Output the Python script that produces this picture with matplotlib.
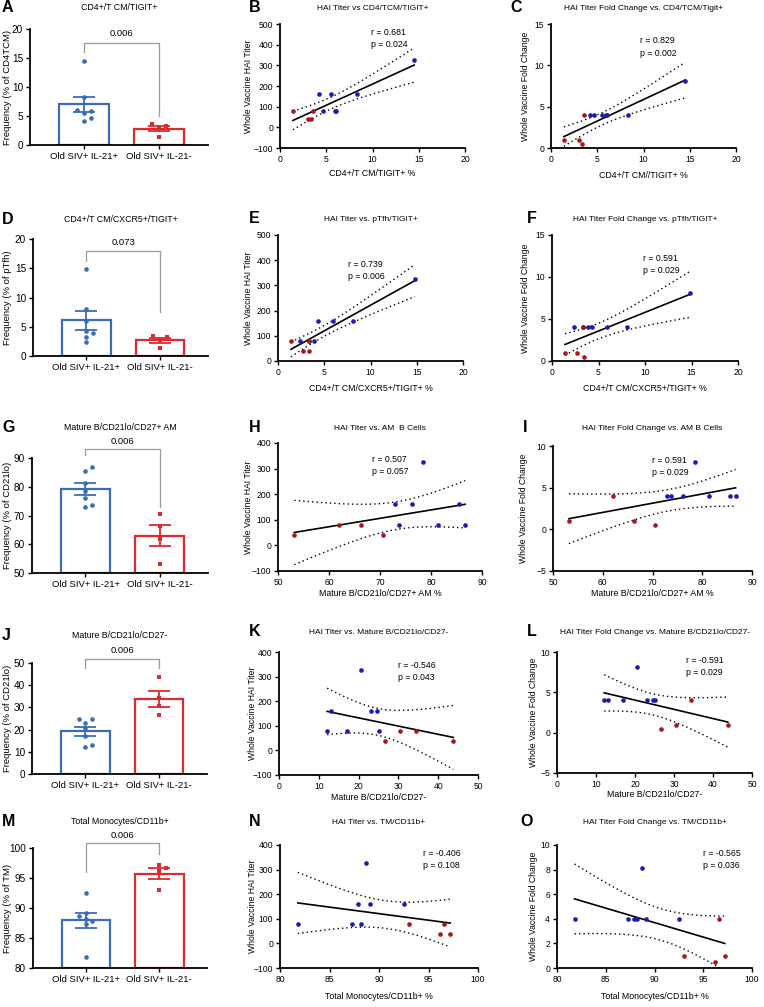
import numpy as np
import matplotlib.pyplot as plt

plt.rcParams['font.family'] = ['Liberation Sans', 'DejaVu Sans']

W, H = 764, 1007
BLUE = "#3b6db5"
RED = "#dd2a2f"
DOT_BLUE = "#1a1cae"
DOT_RED = "#a8161b"
GRAY = "#9a9a9a"
T_CRIT = 2.262  # t(0.975, df = 9), n = 11 animals

GROUPS = ["Old SIV+ IL-21+", "Old SIV+ IL-21-"]

# per-animal outcomes (IL-21+ group, IL-21- group)
hai_pos = [325, 160, 160, 160, 80, 80, 80]
hai_neg = [80, 80, 40, 40]
fold_pos = [8.1, 4, 4, 4, 4, 4, 4]
fold_neg = [1, 4, 1, 0.5]

# per-animal cell frequencies, same animal order as above
tcm_pos = [14.5, 8.3, 4.2, 5.5, 4.6, 5.9, 6.0]
tcm_neg = [1.4, 3.6, 3.0, 3.3]
tfh_pos = [14.8, 8.1, 4.3, 5.9, 2.4, 3.9, 3.3]
tfh_neg = [1.4, 3.3, 2.7, 3.4]
am_pos = [78.5, 73.0, 76.2, 85.5, 73.7, 81.4, 86.7]
am_neg = [66.3, 62.0, 53.2, 70.6]
cd27_pos = [20.5, 13.0, 23.0, 24.7, 12.1, 17.0, 25.0]
cd27_neg = [30.5, 34.3, 43.8, 26.7]
mono_pos = [88.7, 87.9, 89.1, 92.5, 81.8, 87.3, 88.2]
mono_neg = [93.0, 96.6, 97.2, 96.2]

fig = plt.figure(figsize=(W / 100, H / 100), dpi=100)


def add_ax(l, t, r, b):
    return fig.add_axes([l / W, 1 - b / H, (r - l) / W, (b - t) / H])


def ftext(x, y, s, **kw):
    fig.text(x / W, 1 - y / H, s, **kw)


def style(ax, fs):
    for s in ["top", "right"]:
        ax.spines[s].set_visible(False)
    for s in ["left", "bottom"]:
        ax.spines[s].set_linewidth(1.3)
    ax.tick_params(direction="out", length=3, width=1, labelsize=fs, pad=2)


def label_coords(ax, box, ylab_px, xlab_px=None):
    l, t, r, b = box
    ax.yaxis.set_label_coords((ylab_px - l) / (r - l), 0.5)
    if xlab_px is not None:
        ax.xaxis.set_label_coords(0.5, (b - xlab_px) / (b - t))


def swarm(vals, dx, dy):
    offs = np.zeros(len(vals))
    placed = []
    for i in np.argsort(vals):
        for k in [0, 1, -1, 2, -2, 3, -3]:
            o = k * dx
            if all(((o - po) / dx) ** 2 + ((vals[i] - pv) / dy) ** 2 >= 1 for po, pv in placed):
                break
        offs[i] = o
        placed.append((o, vals[i]))
    return offs


def bar_panel(box, letter, title, title_y, pos, neg, ylim, step, ylabel, ptxt, brk):
    ax = add_ax(*box)
    style(ax, 7.2)
    l, t, r, b = box
    dy = (ylim[1] - ylim[0]) * 5 / (b - t)
    for i, (vals, col, mk) in enumerate([(pos, BLUE, "o"), (neg, RED, "s")]):
        v = np.array(vals, dtype=float)
        m = v.mean()
        sem = v.std(ddof=1) / np.sqrt(len(v))
        ax.bar(i, m - ylim[0], bottom=ylim[0], width=0.66, facecolor="white",
               edgecolor=col, linewidth=1.6, zorder=1)
        ax.errorbar(i, m, yerr=sem, color=col, capsize=8, capthick=1.3,
                    elinewidth=1.3, zorder=2)
        ax.scatter(i + swarm(v, 0.09, dy), v, marker=mk, s=11, color=col,
                   zorder=3, clip_on=False, linewidths=0)
    ax.set_xlim(-0.72, 1.65)
    ax.set_ylim(*ylim)
    ax.set_yticks(np.arange(ylim[0], ylim[1] + step / 2, step))
    ax.set_xticks([0, 1])
    ax.set_xticklabels(GROUPS, fontsize=6.8)
    ax.set_ylabel(ylabel, fontsize=6.8)
    label_coords(ax, box, 12)
    y0, yl, yr, yt = brk
    ax.plot([0, 0, 1, 1], [yl, y0, y0, yr], color=GRAY, lw=0.9, clip_on=False)
    ax.text(0.5, yt, ptxt, ha="center", va="center", fontsize=6.8)
    ftext((l + r) / 2, title_y, title, ha="center", va="center", fontsize=6.3)
    ftext(2, title_y, letter, ha="left", va="center", fontsize=11.5, fontweight="bold")
    return ax


def scatter_panel(box, letter, letter_x, title, title_y, xp, xn, yp, yn, xlim, xstep,
                  ylim, ystep, xlabel, ylabel, stats, sxy, ylab_px, xlab_px):
    ax = add_ax(*box)
    style(ax, 6.2)
    l, t, r, b = box
    x = np.r_[xp, xn].astype(float)
    y = np.r_[yp, yn].astype(float)
    n = len(x)
    slope, icpt = np.polyfit(x, y, 1)
    xs = np.linspace(x.min(), x.max(), 100)
    yh = icpt + slope * xs
    resid = y - (icpt + slope * x)
    s = np.sqrt(np.sum(resid ** 2) / (n - 2))
    se = s * np.sqrt(1 / n + (xs - x.mean()) ** 2 / np.sum((x - x.mean()) ** 2))
    ax.plot(xs, yh, color="black", lw=1.2, zorder=2)
    ax.plot(xs, yh + T_CRIT * se, color="black", lw=1, ls=(0, (1, 2.2)), zorder=2)
    ax.plot(xs, yh - T_CRIT * se, color="black", lw=1, ls=(0, (1, 2.2)), zorder=2)
    ax.scatter(xp, yp, s=11, color=DOT_BLUE, zorder=3, linewidths=0)
    ax.scatter(xn, yn, s=11, color=DOT_RED, zorder=3, linewidths=0)
    ax.set_xlim(*xlim)
    ax.set_ylim(*ylim)
    ax.set_xticks(np.arange(xlim[0], xlim[1] + xstep / 2, xstep))
    ax.set_yticks(np.arange(ylim[0], ylim[1] + ystep / 2, ystep))
    ax.set_xlabel(xlabel, fontsize=6.3)
    ax.set_ylabel(ylabel, fontsize=6.2)
    label_coords(ax, box, ylab_px, xlab_px)
    ax.text(sxy[0], sxy[1], stats, transform=ax.transAxes, ha="left", va="top",
            fontsize=6.3, linespacing=1.45)
    ftext((l + r) / 2, title_y, title, ha="center", va="center", fontsize=6.0)
    ftext(letter_x, title_y - 1, letter, ha="left", va="center", fontsize=11.5,
          fontweight="bold")
    return ax


TITER = "Whole Vaccine HAI Titer"
FOLD = "Whole Vaccine Fold Change"

# row 1
bar_panel((30, 29, 208, 145), "A", "CD4+/T CM/TIGIT+", 8, tcm_pos, tcm_neg,
          (0, 20), 5, "Frequency (% of CD4TCM)", "0.006", (17.5, 16.0, 5.0, 19.3))
scatter_panel((280, 24, 465, 148), "B", 249, "HAI Titer vs CD4/TCM/TIGIT+", 8,
              tcm_pos, tcm_neg, hai_pos, hai_neg, (0, 20), 5, (-100, 500), 100,
              "CD4+/T CM/TIGIT+ %", TITER, "r = 0.681\np = 0.024", (0.49, 0.97), 253, 169)
scatter_panel((551, 24, 736, 148), "C", 510, "HAI Titer Fold Change vs. CD4/TCM/Tigit+", 8,
              tcm_pos, tcm_neg, fold_pos, fold_neg, (0, 20), 5, (0, 15), 5,
              "CD4+/T CM//TIGIT+ %", FOLD, "r = 0.829\np = 0.002", (0.48, 0.90), 530, 171)

# row 2
bar_panel((33, 239, 208, 356), "D", "CD4+/T CM/CXCR5+/TIGIT+", 219, tfh_pos, tfh_neg,
          (0, 20), 5, "Frequency (% of pTfh)", "0.073", (17.9, 16.2, 7.5, 19.4))
scatter_panel((278, 235, 463, 361), "E", 249, "HAI Titer vs. pTfh/TIGIT+", 219,
              tfh_pos, tfh_neg, hai_pos, hai_neg, (0, 20), 5, (0, 500), 100,
              "CD4+/T CM/CXCR5+/TIGIT+ %", TITER, "r = 0.739\np = 0.006", (0.38, 0.80), 253, 384)
scatter_panel((552, 235, 738, 361), "F", 527, "HAI Titer Fold Change vs. pTfh/TIGIT+", 219,
              tfh_pos, tfh_neg, fold_pos, fold_neg, (0, 20), 5, (0, 15), 5,
              "CD4+/T CM/CXCR5+/TIGIT+ %", FOLD, "r = 0.591\np = 0.029", (0.49, 0.85), 530, 384)

# row 3
bar_panel((32, 458, 208, 573), "G", "Mature B/CD21lo/CD27+ AM", 428, am_pos, am_neg,
          (50, 90), 10, "Frequency (% of CD21lo)", "0.006", (93.1, 91.2, 73.1, 95.8))
scatter_panel((278, 443, 482, 571), "H", 249, "HAI Titer vs. AM  B Cells", 428,
              am_pos, am_neg, hai_pos, hai_neg, (50, 90), 10, (-100, 400), 100,
              "Mature B/CD21lo/CD27+ AM %", TITER, "r = 0.507\np = 0.057", (0.46, 0.91), 253, 589)
scatter_panel((553, 446, 752, 571), "I", 523, "HAI Titer Fold Change vs. AM B Cells", 428,
              am_pos, am_neg, fold_pos, fold_neg, (50, 90), 10, (-5, 10), 5,
              "Mature B/CD21lo/CD27+ AM %", FOLD, "r = 0.591\np = 0.029", (0.50, 0.92), 528, 589)

# row 4
bar_panel((32, 663, 207, 774), "J", "Mature B/CD21lo/CD27-", 635, cd27_pos, cd27_neg,
          (0, 50), 10, "Frequency (% of CD21lo)", "0.006", (51.8, 47.7, 47.7, 55.7))
scatter_panel((279, 652, 478, 775), "K", 249, "HAI Titer vs. Mature B/CD21lo/CD27-", 633,
              cd27_pos, cd27_neg, hai_pos, hai_neg, (0, 50), 10, (-100, 400), 100,
              "Mature B/CD21lo/CD27-", TITER, "r = -0.546\np = 0.043", (0.60, 0.93), 257, 793)
scatter_panel((557, 652, 752, 773), "L", 527, "HAI Titer Fold Change vs. Mature B/CD21lo/CD27-", 633,
              cd27_pos, cd27_neg, fold_pos, fold_neg, (0, 50), 10, (-5, 10), 5,
              "Mature B/CD21lo/CD27-", FOLD, "r = -0.591\np = 0.029", (0.66, 0.97), 538, 790)

# row 5
bar_panel((33, 848, 207, 968), "M", "Total Monocytes/CD11b+", 821, mono_pos, mono_neg,
          (80, 100), 5, "Frequency (% of TM)", "0.006", (100.8, 96.0, 99.0, 102.0))
scatter_panel((280, 845, 478, 968), "N", 249, "HAI Titer vs. TM/CD11b+", 822,
              mono_pos, mono_neg, hai_pos, hai_neg, (80, 100), 5, (-100, 400), 100,
              "Total Monocytes/CD11b+ %", TITER, "r = -0.406\np = 0.108", (0.72, 0.97), 257, 992)
scatter_panel((557, 845, 752, 968), "O", 520, "HAI Titer Fold Change vs. TM/CD11b+", 822,
              mono_pos, mono_neg, fold_pos, fold_neg, (80, 100), 5, (0, 10), 2,
              "Total Monocytes/CD11b+ %", FOLD, "r = -0.565\np = 0.036", (0.75, 0.97), 538, 992)

fig.savefig("out.png", dpi=100)
